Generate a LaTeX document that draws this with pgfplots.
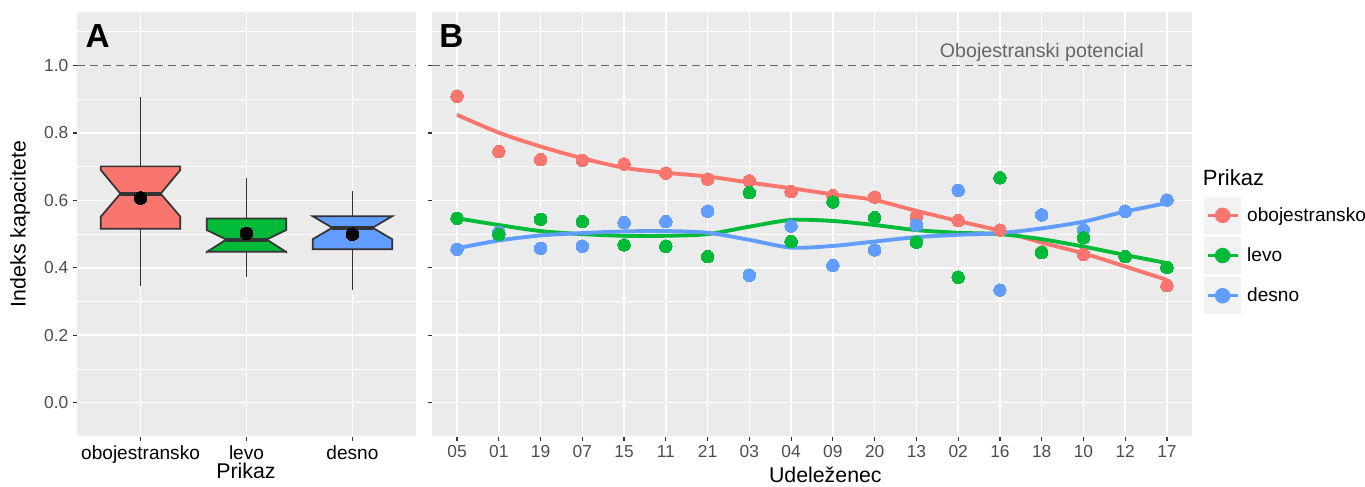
\documentclass[border=0pt]{standalone}
\usepackage{pgfplots}
\pgfplotsset{compat=1.18}
\usepackage{pgfplotstable}
\usepackage{fontspec}
\setmainfont{Liberation Sans}
\definecolor{obc}{HTML}{F8766D}
\definecolor{lec}{HTML}{00BA38}
\definecolor{dec}{HTML}{619CFF}
\definecolor{bgc}{HTML}{EBEBEB}
\definecolor{keybg}{HTML}{F2F2F2}
\definecolor{gthirty}{HTML}{4D4D4D}
\definecolor{gtwenty}{HTML}{333333}
\definecolor{dashc}{HTML}{666666}

% Panel B: points (ob, le, de) and smooth curves (obs, les, des)
\pgfplotstableread{
x ob le de obs les des
1 0.909 0.547 0.455 0.854 0.547 0.458
2 0.745 0.499 0.506 0.801 0.527 0.481
3 0.721 0.544 0.458 0.760 0.509 0.496
4 0.719 0.537 0.464 0.725 0.500 0.503
5 0.708 0.468 0.534 0.697 0.495 0.508
6 0.681 0.464 0.537 0.682 0.495 0.509
7 0.663 0.433 0.568 0.671 0.500 0.504
8 0.658 0.623 0.378 0.653 0.522 0.483
9 0.626 0.478 0.524 0.636 0.542 0.460
10 0.614 0.595 0.407 0.618 0.539 0.465
11 0.610 0.549 0.453 0.601 0.527 0.478
12 0.550 0.476 0.527 0.569 0.512 0.491
13 0.540 0.372 0.630 0.539 0.504 0.498
14 0.512 0.667 0.334 0.510 0.500 0.503
15 0.447 0.445 0.557 0.475 0.485 0.517
16 0.440 0.489 0.513 0.443 0.463 0.537
17 0.433 0.433 0.568 0.404 0.438 0.567
18 0.347 0.401 0.601 0.364 0.414 0.592
}\datB

\pgfplotsset{
  gg/.style={
    scale only axis,
    height=318.5pt,
    ymin=-0.101, ymax=1.159,
    ytick={0,0.2,0.4,0.6,0.8,1.0},
    minor ytick={-0.1,0.1,0.3,0.5,0.7,0.9,1.1},
    xmajorgrids, ymajorgrids, yminorgrids,
    major grid style={white, line width=1.2pt},
    minor grid style={white, line width=0.6pt},
    tick align=outside,
    major tick length=3pt,
    minor tick length=0pt,
    tick style={gtwenty, line width=0.9pt},
    axis line style={draw=none},
    axis background/.style={fill=bgc},
    xtick pos=bottom, ytick pos=left,
    yticklabel style={font=\fontsize{13pt}{15pt}\selectfont, text=gthirty},
  },
  box/.style={draw=gtwenty, line width=1.3pt, line join=miter},
  whisk/.style={gtwenty, line width=1.3pt, forget plot},
  med/.style={gtwenty, line width=3pt, forget plot},
  meanpt/.style={only marks, mark=*, mark size=4.8pt, mark options={black, line width=0pt}, forget plot},
  refline/.style={dashc, line width=1.2pt, dash pattern=on 6pt off 3.75pt, forget plot},
}

\begin{document}
\begin{tikzpicture}
\useasboundingbox (0,0) rectangle (1023.75pt,-364.5pt);

% ---------------- Panel A ----------------
\begin{axis}[gg,
  at={(57.75pt,-327.5pt)}, anchor=south west,
  width=254.25pt,
  xmin=0.4, xmax=3.6,
  xtick={1,2,3},
  xticklabels={obojestransko,levo,desno},
  xticklabel style={font=\fontsize{14.3pt}{16pt}\selectfont, text=black},
  yticklabels={0.0,0.2,0.4,0.6,0.8,1.0},
]
\addplot[refline] coordinates {(0.4,1) (3.6,1)};
% whiskers
\addplot[whisk] coordinates {(1,0.701) (1,0.908)};
\addplot[whisk] coordinates {(1,0.516) (1,0.347)};
\addplot[whisk] coordinates {(2,0.546) (2,0.666)};
\addplot[whisk] coordinates {(2,0.448) (2,0.372)};
\addplot[whisk] coordinates {(3,0.553) (3,0.629)};
\addplot[whisk] coordinates {(3,0.455) (3,0.334)};
% notched boxes
\addplot[box, fill=obc, forget plot] coordinates {(0.625,0.701) (1.375,0.701) (1.375,0.690) (1.19,0.620) (1.375,0.552) (1.375,0.516) (0.625,0.516) (0.625,0.552) (0.81,0.620) (0.625,0.690)} -- cycle;
\addplot[box, fill=lec, forget plot] coordinates {(1.625,0.546) (2.375,0.546) (2.375,0.512) (2.19,0.484) (2.375,0.447) (2.375,0.448) (1.625,0.448) (1.625,0.447) (1.81,0.484) (1.625,0.512)} -- cycle;
\addplot[box, fill=dec, forget plot] coordinates {(2.625,0.553) (3.375,0.553) (3.19,0.519) (3.375,0.485) (3.375,0.455) (2.625,0.455) (2.625,0.485) (2.81,0.519)} -- cycle;
% medians
\addplot[med] coordinates {(0.81,0.620) (1.19,0.620)};
\addplot[med] coordinates {(1.81,0.484) (2.19,0.484)};
\addplot[med] coordinates {(2.81,0.519) (3.19,0.519)};
% means
\addplot[meanpt] coordinates {(1,0.607) (2,0.502) (3,0.500)};
\node[anchor=west, inner sep=0pt, font=\fontsize{25pt}{28pt}\selectfont\bfseries] at (axis cs:0.48,1.088) {A};
\end{axis}

% ---------------- Panel B ----------------
\begin{axis}[gg,
  at={(324pt,-327.5pt)}, anchor=south west,
  width=570pt,
  xmin=0.4, xmax=18.6,
  xtick={1,...,18},
  xticklabels={05,01,19,07,15,11,21,03,04,09,20,13,02,16,18,10,12,17},
  xticklabel style={font=\fontsize{13pt}{15pt}\selectfont, text=gthirty},
  yticklabels={},
  legend image code/.code={
    \fill[keybg] (0pt,-12.75pt) rectangle (25.5pt,12.75pt);
    \draw[#1] (1.5pt,0pt) -- (24pt,0pt);
    \fill[#1] (12.75pt,0pt) circle (4.6pt);
  },
  legend style={at={(1.0158,0.565)}, anchor=north west, draw=none, fill=none,
    inner sep=0pt, outer sep=0pt, row sep=2.25pt, column sep=4.5pt,
    font=\fontsize{14.3pt}{16pt}\selectfont,
    nodes={inner sep=0pt, anchor=west}},
  legend cell align=left,
]
\addplot[refline] coordinates {(0.4,1) (18.6,1)};
\addplot[only marks, mark=*, mark size=4.7pt, obc, mark options={line width=0pt}, forget plot] table[x=x, y=ob] {\datB};
\addplot[only marks, mark=*, mark size=4.7pt, dec, mark options={line width=0pt}, forget plot] table[x=x, y=de] {\datB};
\addplot[only marks, mark=*, mark size=4.7pt, lec, mark options={line width=0pt}, forget plot] table[x=x, y=le] {\datB};
\addplot[obc, line width=2.9pt, smooth, tension=0.5, forget plot] table[x=x, y=obs] {\datB};
\addplot[lec, line width=2.9pt, smooth, tension=0.5, forget plot] table[x=x, y=les] {\datB};
\addplot[dec, line width=2.9pt, smooth, tension=0.5, forget plot] table[x=x, y=des] {\datB};
\node[anchor=east, inner sep=0pt, text=dashc, font=\fontsize{14.7pt}{16pt}\selectfont] at (axis cs:17.45,1.04) {Obojestranski potencial};
\node[anchor=west, inner sep=0pt, font=\fontsize{25pt}{28pt}\selectfont\bfseries] at (axis cs:0.57,1.088) {B};
\addlegendimage{obc, line width=2.4pt}
\addlegendentry{obojestransko}
\addlegendimage{lec, line width=2.4pt}
\addlegendentry{levo}
\addlegendimage{dec, line width=2.4pt}
\addlegendentry{desno}
\end{axis}

% ---------------- titles ----------------
\node[rotate=90, font=\fontsize{16pt}{18pt}\selectfont] at (15pt,-168pt) {Indeks kapacitete};
\node[anchor=north, inner sep=0pt, font=\fontsize{16pt}{18pt}\selectfont] at (184.5pt,-347pt) {Prikaz};
\node[anchor=north, inner sep=0pt, font=\fontsize{16pt}{18pt}\selectfont] at (619pt,-350pt) {Udeleženec};
\node[anchor=west, inner sep=0pt, font=\fontsize{16.5pt}{18pt}\selectfont] at (902pt,-133.5pt) {Prikaz};
\end{tikzpicture}
\end{document}
